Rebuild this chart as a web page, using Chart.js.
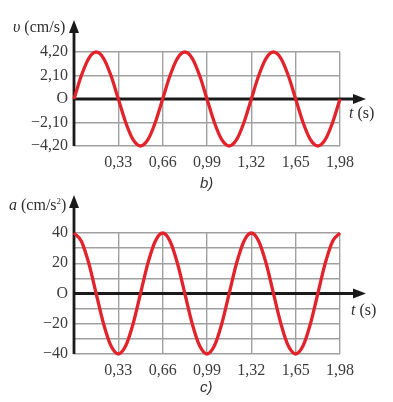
<!DOCTYPE html>
<html lang="vi">
<head>
    <meta charset="UTF-8">
    <title>Đồ thị vận tốc và gia tốc</title>
    <script src="https://cdn.jsdelivr.net/npm/chart.js"></script>
    <style>
        body { margin: 0; background: #fff; }
        #wrap { position: relative; width: 393px; height: 402px; }
        canvas { position: absolute; left: 0; }
        .lbl { position: absolute; font-family: 'Liberation Serif', serif; font-size: 16px; color: #2e2e2e; white-space: nowrap; line-height: 18px; }
        .cap { position: absolute; font-family: 'Liberation Sans', sans-serif; font-style: italic; font-size: 15px; color: #333; line-height: 18px; }
    </style>
</head>
<body>
<div id="wrap">
    <canvas id="vChart" width="393" height="190" style="top:0"></canvas>
    <canvas id="aChart" width="393" height="212" style="top:190px"></canvas>
    <div class="lbl" style="left:13px; top:18px"><i>υ</i> (cm/s)</div>
    <div class="lbl" style="left:349px; top:104px"><i>t</i> (s)</div>
    <div class="cap" style="left:200px; top:174px">b)</div>
    <div class="lbl" style="left:9px; top:196px"><i>a</i> (cm/s<sup style="font-size:9px; line-height:0">2</sup>)</div>
    <div class="lbl" style="left:351px; top:301px"><i>t</i> (s)</div>
    <div class="cap" style="left:200px; top:378px">c)</div>
</div>
<script>
    // time samples (s), read every 1/12 of a period
    const times = [0, 0.055, 0.11, 0.165, 0.22, 0.275, 0.33, 0.385, 0.44, 0.495, 0.55, 0.605,
        0.66, 0.715, 0.77, 0.825, 0.88, 0.935, 0.99, 1.045, 1.10, 1.155, 1.21, 1.265,
        1.32, 1.375, 1.43, 1.485, 1.54, 1.595, 1.65, 1.705, 1.76, 1.815, 1.87, 1.925, 1.98];

    // velocity (cm/s)
    const velocity = [0, 2.10, 3.64, 4.20, 3.64, 2.10, 0, -2.10, -3.64, -4.20, -3.64, -2.10,
        0, 2.10, 3.64, 4.20, 3.64, 2.10, 0, -2.10, -3.64, -4.20, -3.64, -2.10,
        0, 2.10, 3.64, 4.20, 3.64, 2.10, 0, -2.10, -3.64, -4.20, -3.64, -2.10, 0];

    // acceleration (cm/s^2)
    const accel = [40, 34.6, 20, 0, -20, -34.6, -40, -34.6, -20, 0, 20, 34.6,
        40, 34.6, 20, 0, -20, -34.6, -40, -34.6, -20, 0, 20, 34.6,
        40, 34.6, 20, 0, -20, -34.6, -40, -34.6, -20, 0, 20, 34.6, 40];

    const xTicks = [0, 0.33, 0.66, 0.99, 1.32, 1.65, 1.98];
    const xTickLabels = ['', '0,33', '0,66', '0,99', '1,32', '1,65', '1,98'];

    const vTicks = [-4.2, -2.1, 0, 2.1, 4.2];
    const vTickLabels = ['\u22124,20', '\u22122,10', 'O', '2,10', '4,20'];

    const aTicks = [-40, -30, -20, -10, 0, 10, 20, 30, 40];
    const aTickLabels = ['\u221240', '', '\u221220', '', 'O', '', '20', '', '40'];

    // black axes with arrow heads
    const axisArrows = {
        id: 'axisArrows',
        beforeDatasetsDraw(chart, args, opts) {
            const ctx = chart.ctx;
            const area = chart.chartArea;
            const x0 = chart.scales.x.getPixelForValue(0);
            const y0 = chart.scales.y.getPixelForValue(0);
            const xTip = area.right + opts.extendRight;
            const yTip = opts.tipY;
            ctx.save();
            ctx.strokeStyle = '#1a1a1a';
            ctx.fillStyle = '#1a1a1a';
            ctx.lineWidth = 2.8;
            ctx.beginPath();
            ctx.moveTo(x0, area.bottom);
            ctx.lineTo(x0, yTip + 8);
            ctx.moveTo(x0, y0);
            ctx.lineTo(xTip - 8, y0);
            ctx.stroke();
            ctx.beginPath();
            ctx.moveTo(x0, yTip);
            ctx.lineTo(x0 - 5, yTip + 13);
            ctx.lineTo(x0 + 5, yTip + 13);
            ctx.closePath();
            ctx.fill();
            ctx.beginPath();
            ctx.moveTo(xTip, y0);
            ctx.lineTo(xTip - 13, y0 - 5);
            ctx.lineTo(xTip - 13, y0 + 5);
            ctx.closePath();
            ctx.fill();
            ctx.restore();
        }
    };

    function makeChart(id, values, yTicks, yLabels, padTop, canvasH, plotBottom, tipY) {
        return new Chart(document.getElementById(id), {
            type: 'line',
            data: {
                datasets: [{
                    data: times.map((t, i) => ({ x: t, y: values[i] })),
                    borderColor: '#e2232b',
                    borderWidth: 3.3,
                    pointRadius: 0,
                    cubicInterpolationMode: 'monotone',
                    clip: false
                }]
            },
            options: {
                responsive: false,
                animation: false,
                devicePixelRatio: 1,
                layout: { padding: { left: 0, right: 53, top: padTop, bottom: 0 } },
                plugins: {
                    legend: { display: false },
                    tooltip: { enabled: false },
                    axisArrows: { tipY: tipY, extendRight: 26 }
                },
                scales: {
                    x: {
                        type: 'linear',
                        min: 0,
                        max: 1.98,
                        afterBuildTicks: s => { s.ticks = xTicks.map(v => ({ value: v })); },
                        afterFit: s => { s.height = canvasH - plotBottom; },
                        ticks: {
                            callback: (v, i) => xTickLabels[i],
                            maxRotation: 0,
                            autoSkip: false,
                            padding: 7,
                            color: '#3c3c3c',
                            font: { family: 'Liberation Serif', size: 16 }
                        },
                        grid: { color: '#a0a0a0', lineWidth: 1.4, drawTicks: false },
                        border: { display: false }
                    },
                    y: {
                        min: yTicks[0],
                        max: yTicks[yTicks.length - 1],
                        afterBuildTicks: s => { s.ticks = yTicks.map(v => ({ value: v })); },
                        afterFit: s => { s.width = 74; },
                        ticks: {
                            callback: (v, i) => yLabels[i],
                            autoSkip: false,
                            padding: 6,
                            color: '#3c3c3c',
                            font: { family: 'Liberation Serif', size: 16 }
                        },
                        grid: { color: '#a0a0a0', lineWidth: 1.4, drawTicks: false },
                        border: { display: false }
                    }
                }
            },
            plugins: [axisArrows]
        });
    }

    makeChart('vChart', velocity, vTicks, vTickLabels, 52, 190, 146, 20);
    makeChart('aChart', accel, aTicks, aTickLabels, 43, 212, 164, 5);
</script>
</body>
</html>
